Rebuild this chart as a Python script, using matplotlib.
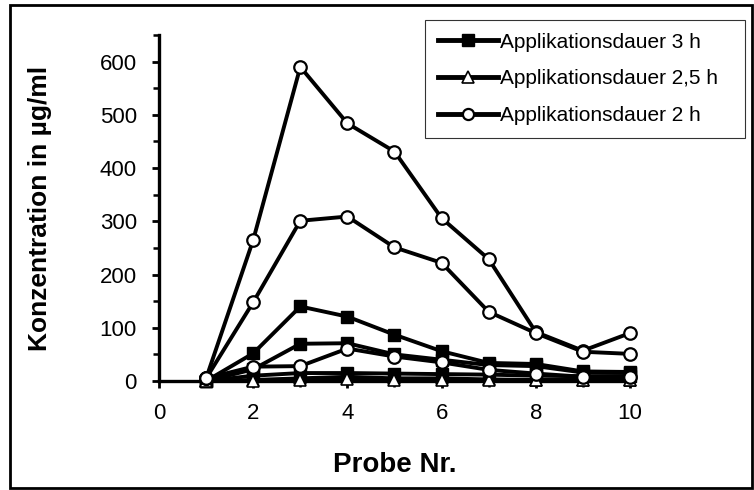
import matplotlib.pyplot as plt
from matplotlib.patches import Rectangle
from matplotlib.ticker import MultipleLocator

plt.rcParams['font.family'] = ['Liberation Sans', 'DejaVu Sans']

probe = [1, 2, 3, 4, 5, 6, 7, 8, 9, 10]

# Applikationsdauer 3 h (squares)
sq_a = [0, 52, 140, 121, 87, 56, 34, 32, 18, 17]
sq_b = [0, 22, 70, 71, 50, 40, 30, 28, 16, 15]
sq_c = [0, 10, 15, 15, 14, 13, 12, 10, 9, 9]

# Applikationsdauer 2,5 h (triangles)
tri_a = [0, 2, 5, 8, 5, 5, 3, 2, 2, 2]
tri_b = [0, 0, 2, 3, 2, 2, 1, 1, 1, 1]

# Applikationsdauer 2 h (circles)
circ_a = [5, 265, 590, 484, 431, 306, 229, 92, 57, 90]
circ_b = [5, 148, 301, 309, 251, 222, 130, 90, 55, 51]
circ_c = [5, 27, 28, 61, 46, 35, 21, 14, 8, 8]

fig = plt.figure(figsize=(7.54, 4.9), dpi=100)
ax = fig.add_axes([0.2109, 0.2224, 0.6246, 0.7062])

lw = 2.8
for i, y in enumerate([sq_a, sq_b, sq_c]):
    ax.plot(probe, y, color='black', lw=lw, marker='s', ms=9,
            mfc='black', mec='black', clip_on=False, zorder=3,
            label='Applikationsdauer 3 h' if i == 0 else None)
for i, y in enumerate([tri_a, tri_b]):
    ax.plot(probe, y, color='black', lw=lw, marker='^', ms=8,
            mfc='white', mec='black', mew=1.2, clip_on=False, zorder=4,
            label='Applikationsdauer 2,5 h' if i == 0 else None)
for i, y in enumerate([circ_a, circ_b, circ_c]):
    ax.plot(probe, y, color='black', lw=lw, marker='o', ms=9,
            mfc='white', mec='black', mew=1.6, clip_on=False, zorder=5,
            label='Applikationsdauer 2 h' if i == 0 else None)

ax.set_xlim(0, 10)
ax.set_ylim(0, 650)
ax.xaxis.set_major_locator(MultipleLocator(2))
ax.xaxis.set_minor_locator(MultipleLocator(1))
ax.yaxis.set_major_locator(MultipleLocator(100))
ax.yaxis.set_minor_locator(MultipleLocator(50))
ax.set_yticks(range(0, 601, 100))

for s in ['top', 'right']:
    ax.spines[s].set_visible(False)
for s in ['left', 'bottom']:
    ax.spines[s].set_linewidth(2.4)
ax.tick_params(which='major', direction='out', length=5, width=2,
               labelsize=16, pad=11)
ax.tick_params(which='minor', direction='out', length=4, width=1.8)

ax.set_xlabel('Probe Nr.', fontsize=20, fontweight='bold')
ax.set_ylabel('Konzentration in µg/ml', fontsize=19, fontweight='bold')
ax.xaxis.set_label_coords(0.5, -0.205)
ax.yaxis.set_label_coords(-0.227, 0.5)

leg = fig.legend(loc='upper left', bbox_to_anchor=(0.5637, 0.5, 0.4244, 0.459),
                 mode='expand', fontsize=15, frameon=True, fancybox=False,
                 handlelength=2.9, handletextpad=0.1, borderpad=0.6,
                 labelspacing=0.85, borderaxespad=0)
leg.get_frame().set_edgecolor('black')
leg.get_frame().set_linewidth(0.8)
for line in leg.get_lines():
    line.set_linewidth(3.5)
    line.set_markersize(8)

fig.patches.append(Rectangle((0.013, 0.004), 0.984, 0.986, transform=fig.transFigure,
                             fill=False, edgecolor='black', lw=2))

fig.savefig('out.png', dpi=100)
